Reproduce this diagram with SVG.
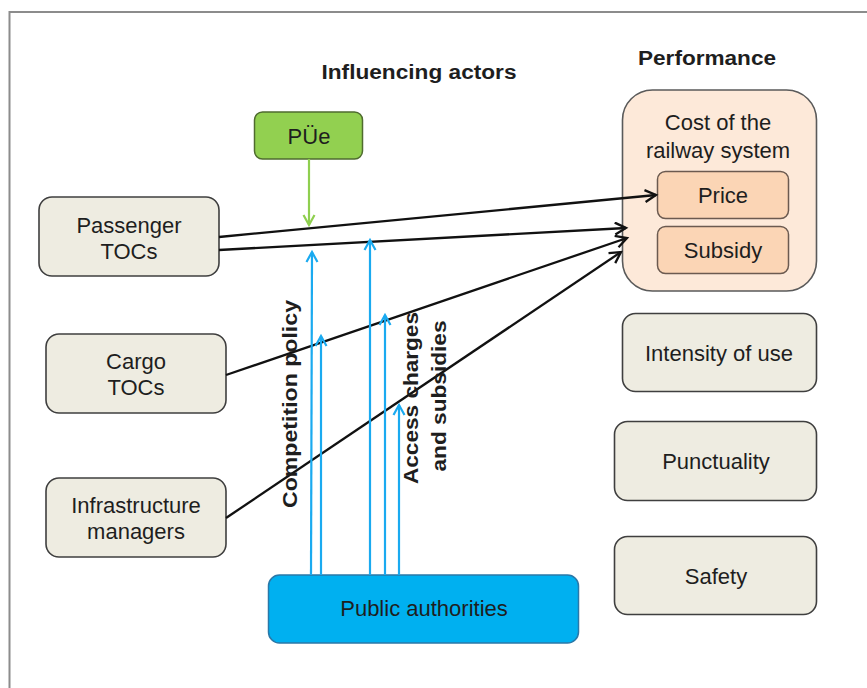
<svg xmlns="http://www.w3.org/2000/svg" width="867" height="688" viewBox="0 0 867 688">
<defs>
<style>
text{font-family:"Liberation Sans",Arial,sans-serif;fill:#1e1e1e}
.t{font-size:22px;text-anchor:middle}
.h{font-size:20px;font-weight:bold;text-anchor:middle}
.v{font-size:21px;font-weight:bold;text-anchor:middle}
.node{fill:#eeece1;stroke:#3f3f3f;stroke-width:1.6}
.blk{stroke:#111;stroke-width:2.3;fill:none}
.blu{stroke:#1aaaf0;stroke-width:2.2;fill:none}
.grn{stroke:#8fcf4f;stroke-width:2.2;fill:none}
</style>
<marker id="ab" markerUnits="userSpaceOnUse" markerWidth="16" markerHeight="16" refX="13" refY="7" orient="auto"><path d="M2,1 L13,7 L2,13" fill="none" stroke="#111" stroke-width="2.3"/></marker>
<marker id="au" markerUnits="userSpaceOnUse" markerWidth="16" markerHeight="16" refX="13" refY="7" orient="auto"><path d="M3,1.5 L13,7 L3,12.5" fill="none" stroke="#1aaaf0" stroke-width="2.2"/></marker>
<marker id="ag" markerUnits="userSpaceOnUse" markerWidth="16" markerHeight="16" refX="13" refY="7" orient="auto"><path d="M3,1.5 L13,7 L3,12.5" fill="none" stroke="#8fcf4f" stroke-width="2.2"/></marker>
</defs>
<rect x="0" y="0" width="867" height="688" fill="#ffffff"/>
<rect x="9.5" y="12" width="870" height="700" fill="none" stroke="#8c8c8c" stroke-width="2"/>

<text class="h" x="419" y="79" textLength="195" lengthAdjust="spacingAndGlyphs">Influencing actors</text>
<text class="h" x="707" y="65" textLength="138" lengthAdjust="spacingAndGlyphs">Performance</text>

<g id="pue">
<rect x="254.5" y="112" width="108" height="47" rx="8" fill="#92d050" stroke="#4f6b2f" stroke-width="1.5"/>
<text class="t" x="309" y="144">PÜe</text>
</g>
<g id="passenger-tocs">
<rect class="node" x="39" y="197" width="180" height="79" rx="13"/>
<text class="t" x="129" y="233">Passenger</text>
<text class="t" x="129" y="259">TOCs</text>
</g>
<g id="cargo-tocs">
<rect class="node" x="46" y="334" width="180" height="79" rx="13"/>
<text class="t" x="136" y="369">Cargo</text>
<text class="t" x="136" y="395">TOCs</text>
</g>
<g id="infrastructure-managers">
<rect class="node" x="46" y="478" width="180" height="79" rx="13"/>
<text class="t" x="136" y="513">Infrastructure</text>
<text class="t" x="136" y="539">managers</text>
</g>
<g id="public-authorities">
<rect x="268.5" y="575" width="310" height="68" rx="11" fill="#00b0f0" stroke="#2a78a8" stroke-width="1.5"/>
<text class="t" x="424" y="616">Public authorities</text>
</g>
<g id="cost">
<rect x="622.5" y="90" width="194" height="201" rx="30" fill="#fde9d9" stroke="#5a5a5a" stroke-width="1.6"/>
<text class="t" x="718" y="130">Cost of the</text>
<text class="t" x="718" y="158">railway system</text>
</g>
<g id="price">
<rect x="657.5" y="171.5" width="131" height="47" rx="8" fill="#fbd5b5" stroke="#6b5a50" stroke-width="1.5"/>
<text class="t" x="723" y="203">Price</text>
</g>
<g id="subsidy">
<rect x="657.5" y="226.5" width="131" height="47" rx="8" fill="#fbd5b5" stroke="#6b5a50" stroke-width="1.5"/>
<text class="t" x="723" y="258">Subsidy</text>
</g>
<g id="intensity">
<rect class="node" x="622.5" y="313.5" width="194" height="78" rx="13"/>
<text class="t" x="719" y="361">Intensity of use</text>
</g>
<g id="punctuality">
<rect class="node" x="614.5" y="421.5" width="202" height="79" rx="13"/>
<text class="t" x="716" y="469">Punctuality</text>
</g>
<g id="safety">
<rect class="node" x="614.5" y="536.5" width="202" height="78" rx="13"/>
<text class="t" x="716" y="584">Safety</text>
</g>

<g id="connectors">
<line class="grn" x1="309" y1="159" x2="309" y2="225" marker-end="url(#ag)"/>
<line class="blk" x1="219" y1="237" x2="656" y2="195" marker-end="url(#ab)"/>
<line class="blk" x1="219" y1="250" x2="626" y2="228" marker-end="url(#ab)"/>
<line class="blk" x1="226" y1="375" x2="627" y2="238" marker-end="url(#ab)"/>
<line class="blk" x1="226" y1="518" x2="621" y2="252" marker-end="url(#ab)"/>
<line class="blu" x1="311" y1="575" x2="312" y2="252" marker-end="url(#au)"/>
<line class="blu" x1="321" y1="575" x2="321" y2="336" marker-end="url(#au)"/>
<line class="blu" x1="370" y1="575" x2="370" y2="240" marker-end="url(#au)"/>
<line class="blu" x1="385" y1="575" x2="385" y2="315" marker-end="url(#au)"/>
<line class="blu" x1="399" y1="575" x2="399" y2="405" marker-end="url(#au)"/>
</g>

<text class="v" transform="translate(297,404) rotate(-90)" textLength="208" lengthAdjust="spacingAndGlyphs">Competition policy</text>
<text class="v" transform="translate(418,398) rotate(-90)" textLength="172" lengthAdjust="spacingAndGlyphs">Access charges</text>
<text class="v" transform="translate(446,396) rotate(-90)" textLength="151" lengthAdjust="spacingAndGlyphs">and subsidies</text>
</svg>
